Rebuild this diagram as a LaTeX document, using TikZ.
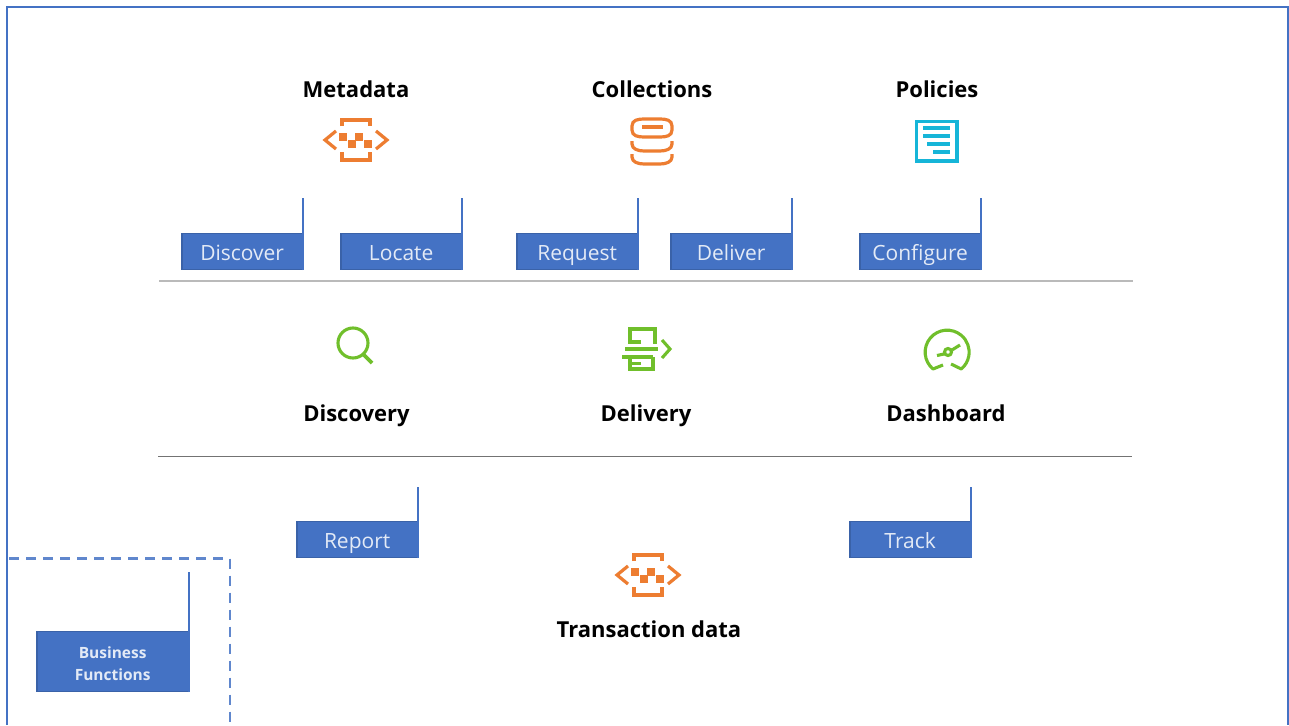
\documentclass[tikz,border=0pt]{standalone}
\usepackage{fontspec}
\setmainfont{Open Sans}
\definecolor{frameblue}{HTML}{4472C4}
\definecolor{tagedge}{HTML}{3A62A8}
\definecolor{tagtext}{HTML}{E3EAF6}
\definecolor{iconorange}{HTML}{ED7D31}
\definecolor{icongreen}{HTML}{70BF2B}
\definecolor{iconcyan}{HTML}{16B5D8}
\tikzset{
  x=1pt,y=-1pt,
  title/.style={font=\fontsize{22}{24}\selectfont\bfseries,text=black,inner sep=0pt,text height=16pt,text depth=5pt,yshift=-2.7pt},
  tagbox/.style={draw=tagedge,line width=1.2pt,fill=frameblue,text=tagtext,anchor=south east,
    minimum width=120.5pt,minimum height=36pt,inner sep=0pt,font=\fontsize{21}{23}\selectfont,
    text height=18pt,text depth=0pt},
  bizbox/.style={draw=tagedge,line width=1.2pt,fill=frameblue,text=tagtext,anchor=south east,
    minimum width=151.5pt,minimum height=60pt,inner sep=0pt,align=center,
    font=\fontsize{15.5}{22}\selectfont\bfseries},
  tagline/.style={draw=frameblue,line width=2pt},
  orangeicon/.style={draw=iconorange,line width=3.2pt},
  greenicon/.style={draw=icongreen,line width=3.1pt},
}
\newcommand{\tagshape}[4]{% name, bottom-right corner, top of rule, text
  \node[tagbox] (#1) at (#2) {#4};
  \coordinate (#1top) at (#3);
  \draw[tagline] (#1.south east) -- (#1top);
}
\newcommand{\dataicon}[2]{%
  \begin{scope}[shift={(#1,#2)}]
    \draw[orangeicon] (-20,-9) -- (-31,0) -- (-20,9);
    \draw[orangeicon] (20,-9) -- (31,0) -- (20,9);
    \draw[orangeicon] (-14,-14) -- (-14,-20) -- (14,-20) -- (14,-14);
    \draw[orangeicon] (-14,12) -- (-14,20) -- (14,20) -- (14,12);
    \fill[iconorange] (-17,-7) rectangle (-9,1);
    \fill[iconorange] (-1,-7) rectangle (7,1);
    \fill[iconorange] (-8,0) rectangle (0,8);
    \fill[iconorange] (8,0) rectangle (16,8);
  \end{scope}}
\begin{document}
\begin{tikzpicture}
\useasboundingbox (0,0) rectangle (1289,725);
\fill[white] (0,0) rectangle (1289,725);
% frame
\coordinate (fa) at (7,725);
\coordinate (fb) at (7,7);
\coordinate (fc) at (1288,7);
\coordinate (fd) at (1288,725);
\draw[frameblue,line width=2pt] (fa) -- (fb) -- (fc) -- (fd);
% dashed region
\coordinate (da) at (9,558.5);
\coordinate (db) at (230,558.5);
\coordinate (dc) at (230,725);
\draw[frameblue!85,line width=2.4pt,dash pattern=on 10pt off 7pt] (da) -- (db) -- (dc);
% separators
\coordinate (s1a) at (159,281);
\coordinate (s1b) at (1133,281);
\coordinate (s2a) at (158,456.5);
\coordinate (s2b) at (1132,456.5);
\draw[color=black!27,line width=2.4pt] (s1a) -- (s1b);
\draw[color=black!55,line width=1.2pt] (s2a) -- (s2b);
% titles
\node[title] (tmeta) at (356,89) {Metadata};
\node[title] (tcoll) at (652,89) {Collections};
\node[title] (tpol) at (937,89) {Policies};
\node[title] (tdisc) at (356.5,413) {Discovery};
\node[title] (tdeli) at (646,413) {Delivery};
\node[title] (tdash) at (946,413) {Dashboard};
\node[title] (ttran) at (649,629) {Transaction data};
% tags
\tagshape{discover}{303,270}{303,198}{Discover}
\tagshape{locate}{462,270}{462,198}{Locate}
\tagshape{request}{638,270}{638,198}{Request}
\tagshape{deliver}{792,270}{792,198}{Deliver}
\tagshape{configure}{981,270}{981,198}{Configure}
\tagshape{report}{418,558}{418,487}{Report}
\tagshape{track}{971,558}{971,487}{Track}
\node[bizbox] (business) at (189,692) {\rule{0pt}{17pt}Business\\Functions};
\coordinate (businesstop) at (189,572);
\draw[tagline] (business.south east) -- (businesstop);
% data icons
\dataicon{356}{140}
\dataicon{648}{575}
% collections icon
\draw[orangeicon] (632,126) .. controls (632,120) and (638,119) .. (644,119) -- (660,119) .. controls (666,119) and (672,120) .. (672,126) -- (672,130) .. controls (672,136) and (666,137) .. (660,137) -- (644,137) .. controls (638,137) and (632,136) .. (632,130) -- cycle;
\draw[orangeicon] (642,127) -- (663,127);
\draw[orangeicon] (632,141) -- (632,144) .. controls (632,149) and (638,151) .. (644,151) -- (660,151) .. controls (666,151) and (672,149) .. (672,144) -- (672,141);
\draw[orangeicon] (632,154) -- (632,157) .. controls (632,162) and (638,164) .. (644,164) -- (660,164) .. controls (666,164) and (672,162) .. (672,157) -- (672,154);
% policies icon
\draw[iconcyan,line width=3.8pt] (916.5,121.5) rectangle (957,161);
\draw[iconcyan,line width=3.4pt] (923,128) -- (950,128);
\draw[iconcyan,line width=3.4pt] (923,136) -- (950,136);
\draw[iconcyan,line width=3.4pt] (927,144) -- (950,144);
\draw[iconcyan,line width=3.4pt] (933,152) -- (950,152);
% discovery icon
\draw[greenicon] (353,343) circle[radius=15];
\draw[greenicon,line width=3.6pt] (363,354) -- (372,363);
% delivery icon
\draw[greenicon] (641,342) -- (630,342) -- (630,329) -- (655,329) -- (655,344);
\draw[greenicon] (625,349) -- (658,349);
\draw[greenicon] (622,357) -- (653,357);
\draw[greenicon] (641,363.5) -- (630,363.5);
\draw[greenicon] (630,357) -- (630,369) -- (653,369) -- (653,357);
\draw[greenicon] (662,340) -- (670,349) -- (662,358);
% dashboard icon
\draw[greenicon,line join=round] (943,365) -- (933,369) arc[start angle=130,end angle=410,radius=22] -- (951,364);
\draw[greenicon] (948,352) circle[radius=3.5];
\draw[greenicon] (937,355.5) -- (944,354);
\draw[greenicon] (952,350) -- (960,345);
\end{tikzpicture}
\end{document}
